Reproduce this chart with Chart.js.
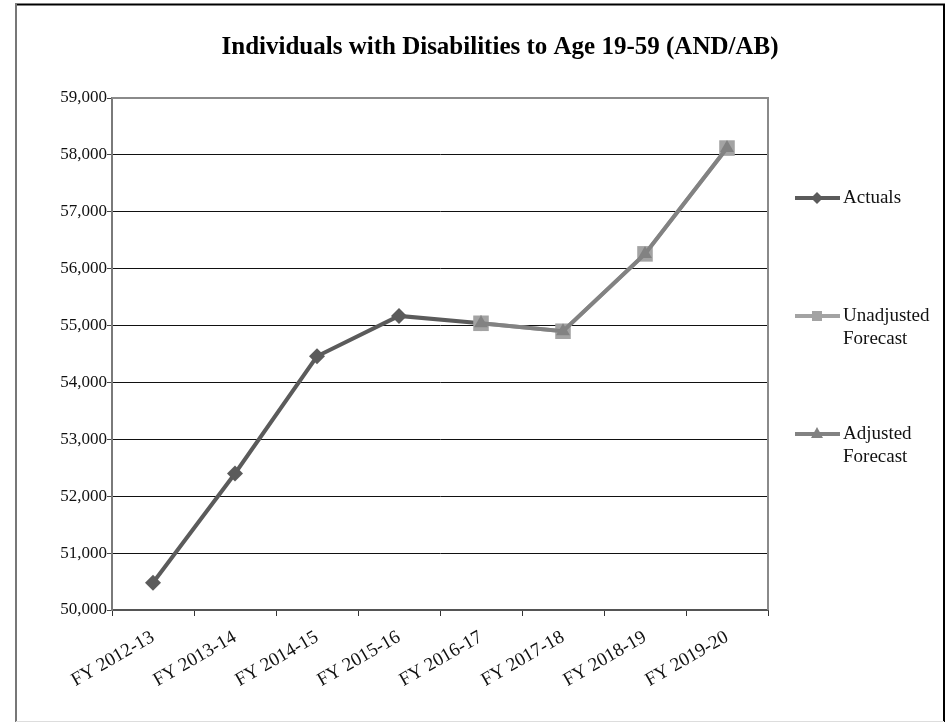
<!DOCTYPE html>
<html>
<head>
<meta charset="utf-8">
<script src="https://cdn.jsdelivr.net/npm/chart.js@4/dist/chart.umd.min.js"></script>
<style>
  html, body { margin: 0; padding: 0; background: #fff; }
  #wrap { width: 951px; height: 724px; position: relative; }
</style>
</head>
<body>
<div id="wrap"><canvas id="c" width="951" height="724"></canvas></div>
<script>
const titleText = 'Individuals with Disabilities to Age 19-59 (AND/AB)';
const categories = ['FY 2012-13', 'FY 2013-14', 'FY 2014-15', 'FY 2015-16', 'FY 2016-17', 'FY 2017-18', 'FY 2018-19', 'FY 2019-20'];
const actuals = [50480, 52400, 54460, 55170, 55040, null, null, null];
const unadjustedForecast = [null, null, null, null, 55040, 54900, 56260, 58120];
const adjustedForecast = [null, null, null, null, 55040, 54900, 56260, 58120];
const seriesNames = ['Actuals', ['Unadjusted', 'Forecast'], ['Adjusted', 'Forecast']];
const yMin = 50000, yMax = 59000, yStep = 1000;

const COL_ACT = '#5b5b5b';
const COL_UNADJ = '#a3a3a3';
const COL_ADJ = '#828282';
const SERIF = '"Liberation Serif", "Times New Roman", serif';

const framePlugin = {
  id: 'frame',
  beforeDraw(chart) {
    const ctx = chart.ctx;
    ctx.save();
    ctx.fillStyle = '#fff';
    ctx.fillRect(0, 0, chart.width, chart.height);
    ctx.strokeStyle = '#000';
    ctx.lineWidth = 2;
    ctx.beginPath();
    ctx.moveTo(16, 722); ctx.lineTo(16, 4.5); ctx.lineTo(944, 4.5); ctx.lineTo(944, 722);
    ctx.stroke();
    ctx.strokeStyle = '#777';
    ctx.beginPath(); ctx.moveTo(16, 4); ctx.lineTo(16, 722); ctx.stroke();
    ctx.strokeStyle = '#ddd';
    ctx.lineWidth = 1;
    ctx.beginPath(); ctx.moveTo(16, 721.5); ctx.lineTo(944, 721.5); ctx.stroke();
    ctx.fillStyle = '#000';
    ctx.font = 'bold 25px ' + SERIF;
    ctx.textAlign = 'center';
    ctx.textBaseline = 'middle';
    ctx.fillText(titleText, 500, 48);
    ctx.restore();
  },
  beforeDatasetsDraw(chart) {
    const ctx = chart.ctx;
    const a = chart.chartArea;
    ctx.save();
    ctx.strokeStyle = '#8a8a8a';
    ctx.lineWidth = 2;
    ctx.beginPath();
    ctx.moveTo(a.left, a.top); ctx.lineTo(a.right, a.top); ctx.lineTo(a.right, a.bottom);
    ctx.stroke();
    ctx.restore();
  },
  afterDraw(chart) {
    const ctx = chart.ctx;
    ctx.save();
    const items = [
      { y: 198, color: COL_ACT, style: 'diamond', label: seriesNames[0] },
      { y: 316, color: COL_UNADJ, style: 'square', label: seriesNames[1] },
      { y: 434, color: COL_ADJ, style: 'triangle', label: seriesNames[2] }
    ];
    ctx.font = '19px ' + SERIF;
    ctx.textBaseline = 'middle';
    ctx.textAlign = 'left';
    items.forEach(it => {
      ctx.strokeStyle = it.color;
      ctx.fillStyle = it.color;
      ctx.lineWidth = 4;
      ctx.beginPath(); ctx.moveTo(795, it.y); ctx.lineTo(840, it.y); ctx.stroke();
      const cx = 817, cy = it.y;
      ctx.beginPath();
      if (it.style === 'diamond') {
        ctx.moveTo(cx, cy - 6); ctx.lineTo(cx + 6, cy); ctx.lineTo(cx, cy + 6); ctx.lineTo(cx - 6, cy);
        ctx.closePath();
      } else if (it.style === 'square') {
        ctx.rect(cx - 5, cy - 5, 10, 10);
      } else {
        ctx.moveTo(cx, cy - 7); ctx.lineTo(cx + 6, cy + 4); ctx.lineTo(cx - 6, cy + 4); ctx.closePath();
      }
      ctx.fill();
      ctx.fillStyle = '#111';
      const lines = Array.isArray(it.label) ? it.label : [it.label];
      lines.forEach((t, i) => ctx.fillText(t, 843, it.y + i * 23));
    });
    ctx.restore();
  }
};

new Chart(document.getElementById('c'), {
  type: 'line',
  data: {
    labels: categories,
    datasets: [
      {
        label: 'Actuals', data: actuals, order: 2,
        borderColor: COL_ACT, backgroundColor: COL_ACT, borderWidth: 4,
        pointStyle: 'rectRot', pointRadius: 8, pointBorderWidth: 0, pointBackgroundColor: COL_ACT,
        tension: 0, spanGaps: false
      },
      {
        label: 'Unadjusted Forecast', data: unadjustedForecast, order: 1,
        borderColor: COL_UNADJ, backgroundColor: COL_UNADJ, borderWidth: 4,
        pointStyle: 'rect', pointRadius: 11, pointBorderWidth: 0, pointBackgroundColor: COL_UNADJ,
        tension: 0
      },
      {
        label: 'Adjusted Forecast', data: adjustedForecast, order: 0,
        borderColor: COL_ADJ, backgroundColor: COL_ADJ, borderWidth: 4,
        pointStyle: 'triangle', pointRadius: 8, pointBorderWidth: 0, pointBackgroundColor: COL_ADJ,
        tension: 0
      }
    ]
  },
  options: {
    responsive: false,
    animation: false,
    devicePixelRatio: 1,
    layout: { padding: { left: 0, top: 98, right: 951 - 768, bottom: 0 } },
    plugins: {
      legend: { display: false },
      title: { display: false },
      tooltip: { enabled: false }
    },
    scales: {
      x: {
        type: 'category',
        offset: true,
        afterFit(scale) { scale.height = 724 - 98 - 512; },
        grid: { offset: true, drawOnChartArea: false, drawTicks: true, tickLength: 6, tickColor: '#333', tickWidth: 1 },
        border: { display: true, color: '#555', width: 2 },
        ticks: {
          minRotation: 30, maxRotation: 30, autoSkip: false, padding: 10,
          color: '#111', font: { family: SERIF, size: 19 }
        }
      },
      y: {
        min: yMin, max: yMax,
        afterFit(scale) { scale.width = 112; },
        grid: { color: '#111', lineWidth: 1, drawTicks: true, tickLength: 5, tickColor: '#444' },
        border: { display: true, color: '#7a7a7a', width: 2 },
        ticks: {
          stepSize: yStep, padding: 0, color: '#111',
          font: { family: SERIF, size: 17 },
          callback: v => v.toLocaleString('en-US')
        }
      }
    }
  },
  plugins: [framePlugin]
});
</script>
</body>
</html>
